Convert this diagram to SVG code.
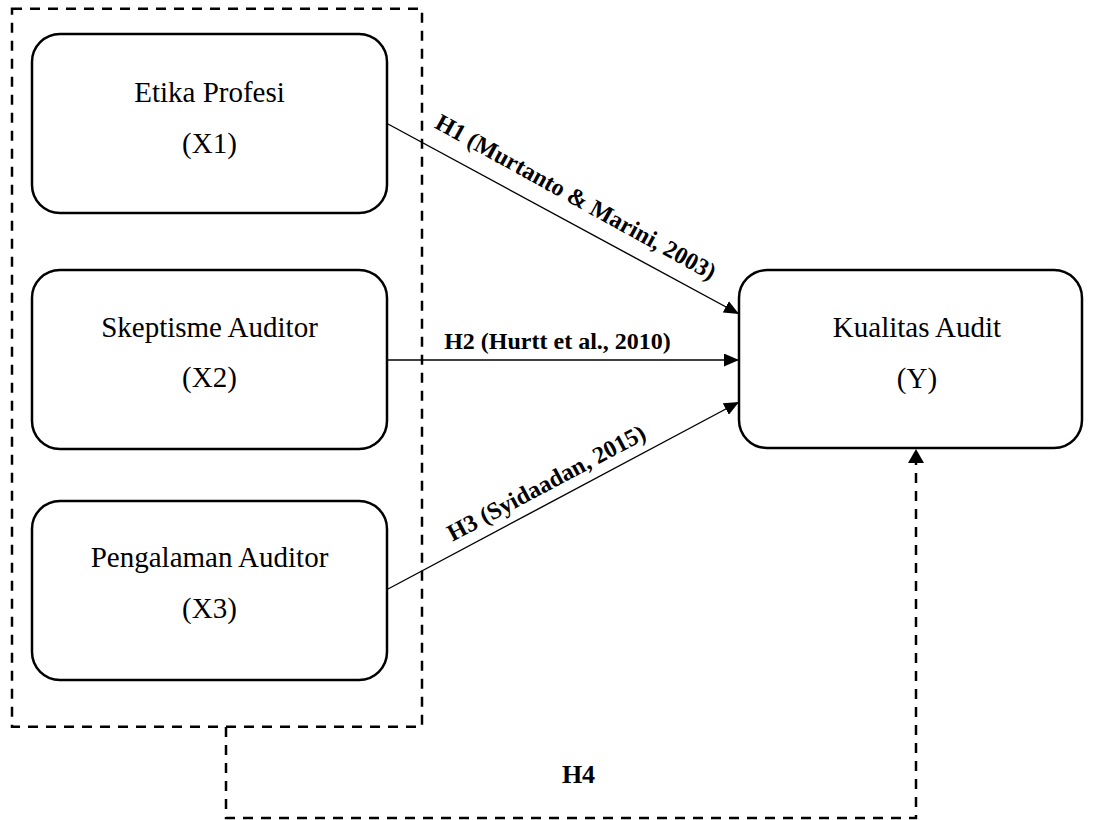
<svg xmlns="http://www.w3.org/2000/svg" width="1095" height="820" viewBox="0 0 1095 820">
<style>
.box{fill:#fff;stroke:#000;stroke-width:2.5}
.lbl{font-family:"Liberation Serif","Times New Roman",serif;font-size:29px;fill:#000;text-anchor:middle}
.hyp{font-family:"Liberation Serif","Times New Roman",serif;font-size:24px;font-weight:bold;fill:#000;text-anchor:middle}
.conn{fill:none;stroke:#000;stroke-width:1.4}
.dash{fill:none;stroke:#000;stroke-width:2.5;stroke-dasharray:10 8}
</style>
<defs>
<marker id="arr" markerWidth="15" markerHeight="13" refX="15" refY="6.5" orient="auto" markerUnits="userSpaceOnUse"><path d="M0,0 L15,6.5 L0,13 z" fill="#000"/></marker>
<marker id="arr2" markerWidth="14" markerHeight="16" refX="14" refY="8" orient="auto" markerUnits="userSpaceOnUse"><path d="M0,0 L14,8 L0,16 z" fill="#000"/></marker>
</defs>
<rect width="1095" height="820" fill="#fff"/>
<g id="group-x">
<rect class="dash" x="12" y="8.7" width="410" height="718"/>
</g>
<g id="x1">
<rect class="box" x="32" y="34" width="355" height="179" rx="28" ry="28"/>
<text class="lbl" x="209.5" y="102">Etika Profesi</text>
<text class="lbl" x="209.5" y="153">(X1)</text>
</g>
<g id="x2">
<rect class="box" x="32" y="270" width="355" height="179" rx="28" ry="28"/>
<text class="lbl" x="209.5" y="337">Skeptisme Auditor</text>
<text class="lbl" x="209.5" y="387">(X2)</text>
</g>
<g id="x3">
<rect class="box" x="32" y="501" width="355" height="179" rx="28" ry="28"/>
<text class="lbl" x="209.5" y="567">Pengalaman Auditor</text>
<text class="lbl" x="209.5" y="618">(X3)</text>
</g>
<g id="y">
<rect class="box" x="739" y="270" width="343" height="178" rx="28" ry="28"/>
<text class="lbl" x="917" y="337">Kualitas Audit</text>
<text class="lbl" x="917" y="388">(Y)</text>
</g>
<g id="connectors">
<line class="conn" x1="388" y1="124" x2="739" y2="314" marker-end="url(#arr)"/>
<line class="conn" x1="388" y1="360" x2="739" y2="360" marker-end="url(#arr)"/>
<line class="conn" x1="388" y1="589" x2="739" y2="402" marker-end="url(#arr)"/>
<path class="dash" d="M226,727 V818 H916 V449" marker-end="url(#arr2)"/>
<text class="hyp" transform="translate(572,204) rotate(29)">H1 (Murtanto &amp; Marini, 2003)</text>
<text class="hyp" x="557.5" y="349">H2 (Hurtt et al., 2010)</text>
<text class="hyp" transform="translate(550,490) rotate(-28)">H3 (Syidaadan, 2015)</text>
<text class="hyp" x="578.5" y="783" style="font-size:26px">H4</text>
</g>
</svg>
